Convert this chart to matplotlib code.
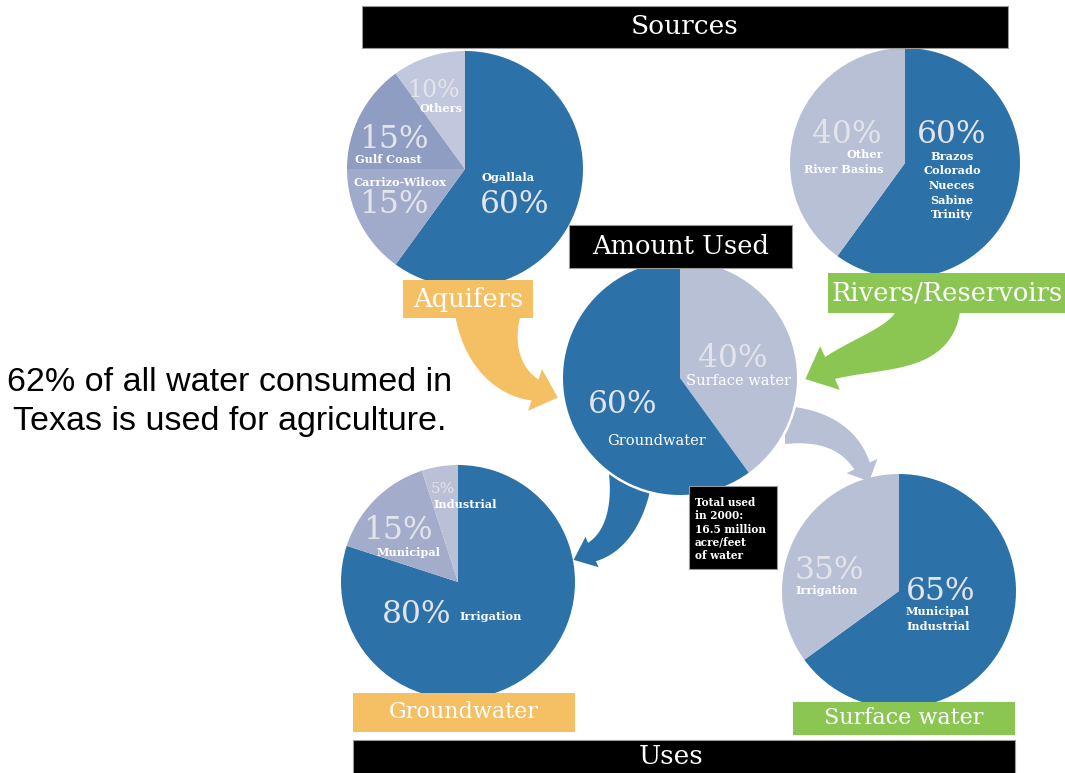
import numpy as np
import matplotlib.pyplot as plt
from matplotlib.patches import Rectangle, Polygon, Circle

W, H = 1065, 773

# shares in percent, clockwise from 12 o'clock
aquifer_names = ["Ogallala", "Carrizo-Wilcox", "Gulf Coast", "Others"]
aquifer_pct = [60, 15, 15, 10]
river_names = ["Brazos\nColorado\nNueces\nSabine\nTrinity", "Other\nRiver Basins"]
river_pct = [60, 40]
amount_names = ["Surface water", "Groundwater"]
amount_pct = [40, 60]
gw_use_names = ["Irrigation", "Municipal", "Industrial"]
gw_use_pct = [80, 15, 5]
sw_use_names = ["Municipal\nIndustrial", "Irrigation"]
sw_use_pct = [65, 35]

headline = "62% of all water consumed in\nTexas is used for agriculture."
total_note = "Total used\nin 2000:\n16.5 million\nacre/feet\nof water"

BLUE = "#2c72a8"
PALE = "#b8c0d6"
ORANGE = "#f5c063"
GREEN = "#8bc653"
PCT_COLOR = "#e3e4ea"
SERIF = "DejaVu Serif"


def pie(ax, values, colors, cx, cy, r, z=1):
    # y axis is flipped, so startangle=-90 + counterclock draws clockwise from the top
    ax.pie(values, colors=colors, center=(cx, cy), radius=r, startangle=-90,
           counterclock=True, frame=True, wedgeprops=dict(linewidth=0, zorder=z))


def pct(ax, x, y, v, size=22.5, ha="center"):
    ax.text(x, y, f"{v}%", fontsize=size, color=PCT_COLOR, family=SERIF,
            ha=ha, va="baseline", zorder=6)


def name(ax, x, y, s, size=8.1, ha="center", step=14.5, weight="bold"):
    for i, line in enumerate(s.split("\n")):
        ax.text(x, y + i * step, line, fontsize=size, color="white", family=SERIF,
                fontweight=weight, ha=ha, va="baseline", zorder=6)


def box(ax, x0, y0, x1, y1, color, text=None, size=18.5, tx=None, ty=None, edge=False):
    ax.add_patch(Rectangle((x0, y0), x1 - x0, y1 - y0, fc=color,
                           ec="#9a9a9a" if edge else "none", lw=0.8, zorder=4))
    if text:
        tx = (x0 + x1) / 2 if tx is None else tx
        ty = (y0 + y1) / 2 if ty is None else ty
        ax.text(tx, ty, text, fontsize=size, color="white", family=SERIF,
                ha="center", va="center", zorder=5)


def bent_arrow(ax, p0, p1, p2, p3, w0, w1, head_w, head_len, color, z=2):
    # tapered band along a cubic bezier, triangle head at the end
    t = np.linspace(0, 1, 80)[:, None]
    P = [np.array(p, dtype=float) for p in (p0, p1, p2, p3)]
    pts = (1 - t) ** 3 * P[0] + 3 * (1 - t) ** 2 * t * P[1] + 3 * (1 - t) * t ** 2 * P[2] + t ** 3 * P[3]
    d = 3 * (1 - t) ** 2 * (P[1] - P[0]) + 6 * (1 - t) * t * (P[2] - P[1]) + 3 * t ** 2 * (P[3] - P[2])
    d = d / np.linalg.norm(d, axis=1, keepdims=True)
    n = np.column_stack([-d[:, 1], d[:, 0]])
    w = (w0 + (w1 - w0) * t) / 2
    left, right = pts + n * w, pts - n * w
    tip = P[3] + d[-1] * head_len
    head = [P[3] + n[-1] * head_w / 2, tip, P[3] - n[-1] * head_w / 2]
    ax.add_patch(Polygon(np.vstack([left, head, right[::-1]]), closed=True,
                         fc=color, ec="none", zorder=z))


fig = plt.figure(figsize=(W / 100, H / 100), dpi=100)
ax = fig.add_axes([0, 0, 1, 1])

# sources
pie(ax, aquifer_pct, [BLUE, "#a0abcb", "#8e9dc1", "#c1c7dc"], 465, 169, 118)
pie(ax, river_pct, [BLUE, PALE], 905, 163, 115)

# uses
pie(ax, gw_use_pct, [BLUE, "#a3adcb", "#bac1d7"], 458, 582, 117)
pie(ax, sw_use_pct, [BLUE, PALE], 899, 591, 117)

# flow arrows
bent_arrow(ax, (488, 314), (488, 350), (505, 380), (535, 390), 66, 22, 44, 24, ORANGE)
bent_arrow(ax, (925, 311), (925, 345), (870, 350), (830, 368), 70, 24, 48, 27, GREEN)
bent_arrow(ax, (785, 425), (825, 425), (850, 440), (862, 466), 38, 17, 34, 17, PALE)
bent_arrow(ax, (631, 470), (631, 505), (620, 540), (592, 552), 45, 20, 33, 20, BLUE)

# amount used, with a white rim over the arrow roots
ax.add_patch(Circle((680, 378), 119.5, fc="white", ec="none", zorder=2.5))
pie(ax, amount_pct, [PALE, BLUE], 680, 378, 117, z=3)

# header / caption boxes
box(ax, 362, 6, 1008, 48, "black", "Sources", 19, edge=True)
box(ax, 569, 225, 792, 268, "black", "Amount Used", 18.5, edge=True)
box(ax, 403, 280, 533, 318, ORANGE, "Aquifers", 18.5)
box(ax, 828, 273, 1066, 313, GREEN, "Rivers/Reservoirs", 18.5, tx=947)
box(ax, 353, 693, 575, 732, ORANGE, "Groundwater", 16)
box(ax, 793, 702, 1015, 735, GREEN, "Surface water", 16)
box(ax, 353, 740, 1015, 774, "black", "Uses", 19, tx=671, ty=757, edge=True)
box(ax, 689, 486, 777, 569, "black", edge=True)
name(ax, 695, 506, total_note, size=7.6, ha="left", step=13.3)

# aquifers
pct(ax, 433, 97, aquifer_pct[3], size=17)
name(ax, 441, 112, aquifer_names[3])
pct(ax, 394, 148, aquifer_pct[2])
name(ax, 388, 163, aquifer_names[2])
name(ax, 400, 186, aquifer_names[1])
pct(ax, 394, 213, aquifer_pct[1])
name(ax, 508, 181, aquifer_names[0])
pct(ax, 515, 213, aquifer_pct[0])

# rivers
pct(ax, 882, 143, river_pct[1], ha="right")
name(ax, 883, 158, river_names[1], ha="right", step=15)
pct(ax, 952, 143, river_pct[0])
name(ax, 952, 160, river_names[0], step=14.5)

# amount used
pct(ax, 733, 367, amount_pct[0])
name(ax, 739, 385, amount_names[0], size=10.5, weight="normal")
pct(ax, 623, 413, amount_pct[1])
name(ax, 656, 445, amount_names[1], size=10.5, weight="normal")

# groundwater uses
pct(ax, 443, 493, gw_use_pct[2], size=11)
name(ax, 465, 508, gw_use_names[2])
pct(ax, 398, 539, gw_use_pct[1])
name(ax, 409, 556, gw_use_names[1])
pct(ax, 417, 623, gw_use_pct[0])
name(ax, 459, 620, gw_use_names[0], ha="left")

# surface water uses
pct(ax, 795, 579, sw_use_pct[1], ha="left")
name(ax, 795, 594, sw_use_names[1], ha="left")
pct(ax, 906, 600, sw_use_pct[0], ha="left")
name(ax, 906, 615, sw_use_names[0], ha="left", step=15)

ax.text(230, 402, headline, fontsize=24.5, family="Liberation Sans", color="black",
        ha="center", va="center", multialignment="center", linespacing=1.33)

ax.set_xlim(0, W)
ax.set_ylim(H, 0)
ax.set_aspect("equal")
ax.axis("off")

fig.savefig("out.png", dpi=100, facecolor="white")
